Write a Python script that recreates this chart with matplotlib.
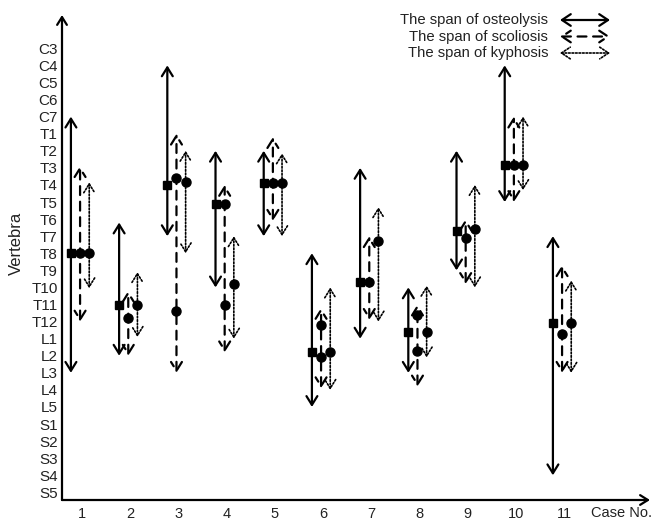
import matplotlib
matplotlib.use("Agg")
import matplotlib.pyplot as plt

plt.rcParams['font.family'] = ['Liberation Sans', 'DejaVu Sans']

vertebrae = ['C3', 'C4', 'C5', 'C6', 'C7',
             'T1', 'T2', 'T3', 'T4', 'T5', 'T6', 'T7', 'T8', 'T9', 'T10', 'T11', 'T12',
             'L1', 'L2', 'L3', 'L4', 'L5',
             'S1', 'S2', 'S3', 'S4', 'S5']
cases = [1, 2, 3, 4, 5, 6, 7, 8, 9, 10, 11]

# span values are vertebra index (0 = C3 ... 26 = S5)
osteo_top = [4, 10.2, 1, 6, 6, 12, 7, 14, 6, 1, 11]
osteo_bot = [19, 18, 11, 14, 11, 21, 17, 19, 13, 9, 25]
osteo_mark = [12, 15, 8, 9.1, 7.9, 17.8, 13.7, 16.6, 10.7, 6.85, 16.1]

scol_top = [6.9, 14.2, 5, 8, 5.2, 15.2, 11, 15, 10, 4, 12.7]
scol_bot = [16, 18, 19, 17.8, 10.1, 19.9, 15.9, 19.8, 13.8, 9, 19]
scol_mark = [[12], [15.8], [7.6, 15.4], [9.1, 15], [7.9], [16.2, 18.1],
             [13.7], [15.6, 17.7], [11.1], [6.85], [16.7]]

kyph_top = [7.85, 13.1, 6, 11, 6.15, 14, 9.3, 13.9, 8, 4, 13.6]
kyph_bot = [14.05, 16.9, 12, 17, 11, 20, 16, 18.1, 14, 8.3, 19]
kyph_mark = [12, 15.05, 7.8, 13.8, 7.9, 17.8, 11.3, 16.6, 10.6, 6.85, 16.1]

legend_labels = ['The span of osteolysis', 'The span of scoliosis', 'The span of kyphosis']

W, H = 654, 521
fig = plt.figure(figsize=(W / 100, H / 100), dpi=100)
ax = fig.add_axes([62 / W, 21 / H, (650 - 62) / W, (500 - 15) / H])

px = 48.2
ax.set_xlim(1 - 20 / px, 1 + (650 - 82) / px)
pitch = 17.08
ax.set_ylim((500 - 48.3) / pitch, (15 - 48.3) / pitch)

for s in ['top', 'right', 'left', 'bottom']:
    ax.spines[s].set_visible(False)

axis_arrow = dict(arrowstyle='->,head_length=0.4,head_width=0.25', lw=1.6,
                  color='black', shrinkA=0, shrinkB=0, mutation_scale=14)
ax.annotate('', xy=(0, 1), xytext=(0, 0), xycoords='axes fraction',
            arrowprops=axis_arrow, annotation_clip=False)
ax.annotate('', xy=(1, 0), xytext=(0, 0), xycoords='axes fraction',
            arrowprops=axis_arrow, annotation_clip=False)

ax.set_yticks(range(len(vertebrae)))
ax.set_yticklabels(vertebrae, fontsize=11, color='#222222')
ax.set_xticks(cases)
ax.set_xticklabels([str(c) for c in cases], fontsize=10.5, color='#222222')
ax.tick_params(axis='y', length=0, pad=3)
ax.tick_params(axis='x', length=0, pad=5)
ax.set_ylabel('Vertebra', fontsize=12, color='#222222')
ax.yaxis.set_label_coords(-0.064, 0.53)
ax.text(12.2, -0.012, 'Case No.', transform=ax.get_xaxis_transform(),
        ha='center', va='top', fontsize=10.5, color='#222222')

solid_ls, dash_ls, dot_ls = '-', (0, (4, 3)), (0, (1, 1.1))


def span(x, top, bot, ls, lw):
    ax.annotate('', xy=(x, top), xytext=(x, bot),
                arrowprops=dict(arrowstyle='<->,head_length=0.45,head_width=0.28',
                                lw=lw, ls=ls, color='black', shrinkA=0, shrinkB=0,
                                mutation_scale=14))


for i, c in enumerate(cases):
    xs, xd, xk = c - 0.23, c - 0.04, c + 0.15
    span(xs, osteo_top[i], osteo_bot[i], solid_ls, 1.6)
    span(xd, scol_top[i], scol_bot[i], dash_ls, 1.6)
    span(xk, kyph_top[i], kyph_bot[i], dot_ls, 1.2)
    ax.plot(xs, osteo_mark[i], 's', color='black', ms=6)
    for m in scol_mark[i]:
        ax.plot(xd, m, 'o', color='black', ms=6.5)
    ax.plot(xk, kyph_mark[i], 'o', color='black', ms=6.5)

# legend drawn by hand at top right
styles = [(solid_ls, 1.6), (dash_ls, 1.6), (dot_ls, 1.2)]
for j, lab in enumerate(legend_labels):
    y = H - (20 + 16.5 * j)
    fig.text(548 / W, y / H, lab, ha='right', va='center', fontsize=10.7, color='#222222')
    ax.annotate('', xy=(610, y), xytext=(560, y), xycoords='figure pixels',
                arrowprops=dict(arrowstyle='<->,head_length=0.45,head_width=0.3',
                                lw=styles[j][1], ls=styles[j][0], color='black',
                                shrinkA=0, shrinkB=0, mutation_scale=14),
                annotation_clip=False)

fig.savefig('out.png', dpi=100)
